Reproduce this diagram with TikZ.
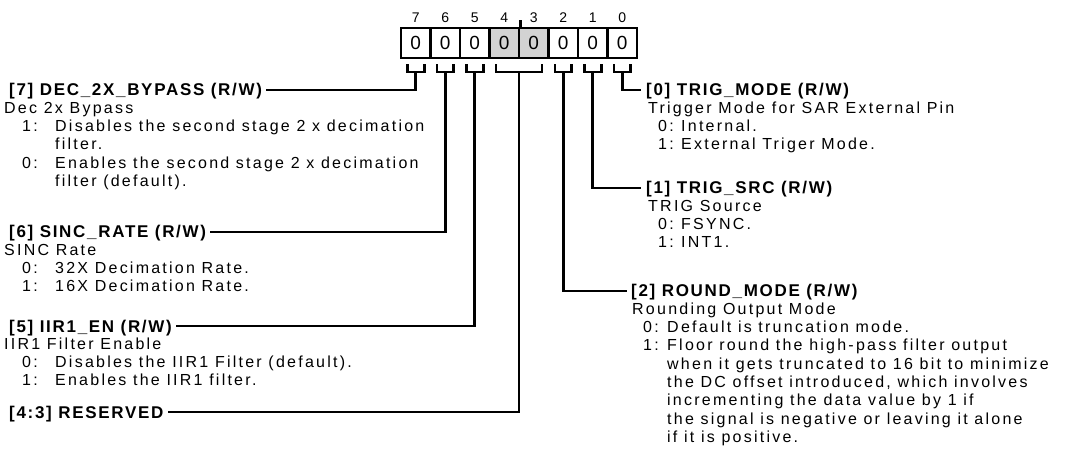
\documentclass[tikz,border=0pt]{standalone}
\usepackage{fontspec}
\setmainfont{Liberation Sans}
\newfontfamily\bodyf[LetterSpace=14]{Liberation Sans}
\newfontfamily\headf[LetterSpace=10]{Liberation Sans}
\definecolor{cellgray}{RGB}{211,211,211}
\newcommand\fs{\rule{0pt}{12pt}}
\newcommand\li[3]{\hspace*{#1}\makebox[#2][l]{#3}}
\begin{document}
\begin{tikzpicture}[x=1pt,y=-1pt,
  wire/.style={line width=2.9pt},
  cell/.style={draw,line width=2.9pt,minimum width=29.5pt,minimum height=30pt,inner sep=0pt,font=\fontsize{19}{21}\selectfont},
  bitnum/.style={inner sep=0pt,font=\fontsize{14}{16}\selectfont},
  hdr/.style={anchor=base west,inner sep=0pt,font=\headf\bfseries\fontsize{17}{20}\selectfont},
  desc/.style={anchor=north west,inner sep=0pt,align=left,font=\bodyf\fontsize{16}{18.3}\selectfont}]
\useasboundingbox (0,0) rectangle (1092,470);
% register cells
\foreach \b in {7,6,5,2,1,0}{
  \node[cell] (c\b) at ({401+29.5*(7-\b)+14.75},43) {0};
}
\foreach \b in {4,3}{
  \node[cell,fill=cellgray] (c\b) at ({401+29.5*(7-\b)+14.75},43) {0};
}
\foreach \b in {7,6,5,4,3,2,1,0}{
  \node[bitnum] (n\b) at ({401+29.5*(7-\b)+14.75},17.5) {\b};
}
\draw[wire] (c4.north east) -- ++(0,-6.5);
% brackets
\foreach \b in {7,6,5,2,1,0}{
  \draw[wire] ({401+29.5*(7-\b)+14.75-8.3},64.5) -- ++(0,7.5) -- ++(16.6,0) -- ++(0,-7.5);
  \coordinate (k\b) at ({401+29.5*(7-\b)+14.75},72);
}
\draw[wire] (496,64.5) -- (496,72) -- (542,72) -- (542,64.5);
\coordinate (k43) at (519,72);
% left headers
\node[hdr] (h7) at (9,96) {[7] DEC\_2X\_BYPASS (R/W)};
\node[desc] (d7) at (4,101) {\fs Dec 2x Bypass\\
\li{18pt}{33pt}{1:}Disables the second stage 2 x decimation\\
\hspace*{51pt}filter.\\
\li{18pt}{33pt}{0:}Enables the second stage 2 x decimation\\
\hspace*{51pt}filter (default).};
\node[hdr] (h6) at (9,238) {[6] SINC\_RATE (R/W)};
\node[desc] (d6) at (4,243) {\fs SINC Rate\\
\li{18pt}{33pt}{0:}32X Decimation Rate.\\
\li{18pt}{33pt}{1:}16X Decimation Rate.};
\node[hdr] (h5) at (9,332) {[5] IIR1\_EN (R/W)};
\node[desc] (d5) at (4,337) {\fs IIR1 Filter Enable\\
\li{18pt}{33pt}{0:}Disables the IIR1 Filter (default).\\
\li{18pt}{33pt}{1:}Enables the IIR1 filter.};
\node[hdr] (h43) at (9,418) {[4:3] RESERVED};
% right headers
\node[hdr] (h0) at (646,96) {[0] TRIG\_MODE (R/W)};
\node[desc] (d0) at (648,101) {\fs Trigger Mode for SAR External Pin\\
\li{10pt}{23pt}{0:}Internal.\\
\li{10pt}{23pt}{1:}External Triger Mode.};
\node[hdr] (h1) at (646,194) {[1] TRIG\_SRC (R/W)};
\node[desc] (d1) at (648,199) {\fs TRIG Source\\
\li{10pt}{23pt}{0:}FSYNC.\\
\li{10pt}{23pt}{1:}INT1.};
\node[hdr] (h2) at (631,297) {[2] ROUND\_MODE (R/W)};
\node[desc] (d2) at (632,302) {\fs Rounding Output Mode\\
\li{11pt}{24pt}{0:}Default is truncation mode.\\
\li{11pt}{24pt}{1:}Floor round the high-pass filter output\\
\hspace*{35pt}when it gets truncated to 16 bit to minimize\\
\hspace*{35pt}the DC offset introduced, which involves\\
\hspace*{35pt}incrementing the data value by 1 if\\
\hspace*{35pt}the signal is negative or leaving it alone\\
\hspace*{35pt}if it is positive.};
% connectors
\draw[wire] (k7) |- ([xshift=4pt,yshift=6pt]h7.base east);
\draw[wire] (k6) |- ([xshift=4pt,yshift=6pt]h6.base east);
\draw[wire] (k5) |- ([xshift=4pt,yshift=6pt]h5.base east);
\draw[wire] (k43) |- ([xshift=4pt,yshift=6pt]h43.base east);
\draw[wire] (k0) |- ([xshift=-5pt,yshift=6pt]h0.base west);
\draw[wire] (k1) |- ([xshift=-5pt,yshift=6pt]h1.base west);
\draw[wire] (k2) |- ([xshift=-4pt,yshift=6pt]h2.base west);
\end{tikzpicture}
\end{document}
